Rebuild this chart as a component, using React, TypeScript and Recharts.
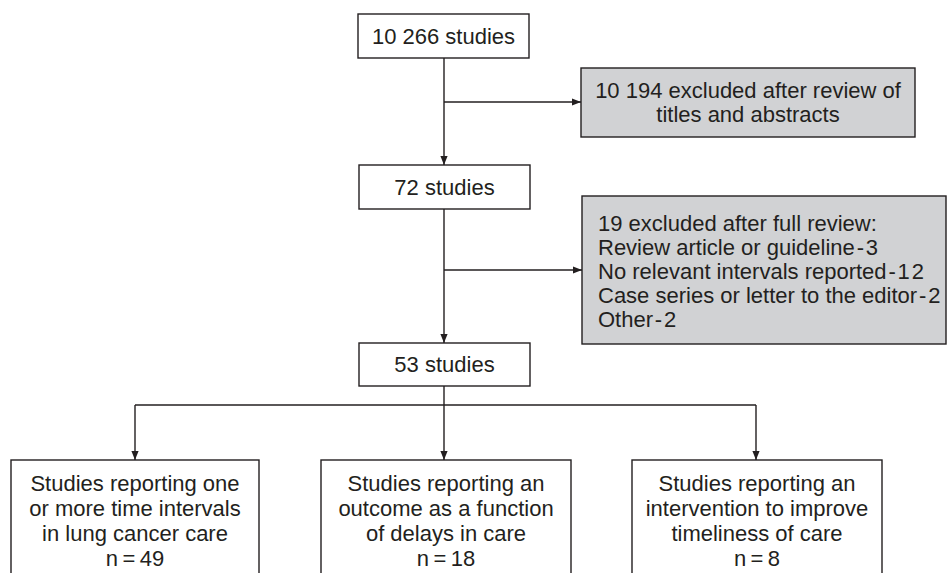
import { ComposedChart, XAxis, YAxis, Scatter, ReferenceLine } from "recharts";

document.body.style.margin = "0";

// text content
const stageLabels = ["10 266 studies", "72 studies", "53 studies"];
const exclusionLabels = [
  ["10 194 excluded after review of", "titles and abstracts"],
  [
    "19 excluded after full review:",
    "Review article or guideline\u200A-\u200A3",
    "No relevant intervals reported\u200A-\u200A1\u200A2",
    "Case series or letter to the editor\u200A-\u200A2",
    "Other\u200A-\u200A2",
  ],
];
const outcomeLabels = [
  ["Studies reporting one", "or more time intervals", "in lung cancer care"],
  ["Studies reporting an", "outcome as a function", "of delays in care"],
  ["Studies reporting an", "intervention to improve", "timeliness of care"],
];
const outcomeCounts = [49, 18, 8];

// layout (pixels, chart domain == canvas)
const W = 947;
const H = 573;
const INK = "#231f20";
const GREY = "#d1d2d4";
const FONT = "'Liberation Sans', Arial, sans-serif";

const stageLayout = [
  { x: 358, y: 14, w: 171, h: 44 },
  { x: 359, y: 165, w: 171, h: 44 },
  { x: 359, y: 343, w: 171, h: 43 },
];
const exclusionLayout = [
  { x: 581, y: 68, w: 334, h: 69, align: "middle", first: 90, gap: 24 },
  { x: 582, y: 196, w: 364, h: 148, align: "start", first: 223, gap: 24 },
];
const outcomeLayout = [
  { x: 11, y: 460, w: 248, h: 130 },
  { x: 321, y: 460, w: 250, h: 130 },
  { x: 632, y: 460, w: 250, h: 130 },
];

const spineX = 444;
const connectors = [
  [{ x: spineX, y: 58 }, { x: spineX, y: 165 }],
  [{ x: spineX, y: 102 }, { x: 581, y: 102 }],
  [{ x: spineX, y: 209 }, { x: spineX, y: 343 }],
  [{ x: spineX, y: 270 }, { x: 582, y: 270 }],
  [{ x: spineX, y: 386 }, { x: spineX, y: 460 }],
  [{ x: 135, y: 405 }, { x: 756, y: 405 }],
  [{ x: 135, y: 405 }, { x: 135, y: 460 }],
  [{ x: 756, y: 405 }, { x: 756, y: 460 }],
];
const arrowTips = [
  { x: spineX, y: 165, dir: "down" },
  { x: 581, y: 102, dir: "right" },
  { x: spineX, y: 343, dir: "down" },
  { x: 582, y: 270, dir: "right" },
  { x: spineX, y: 460, dir: "down" },
  { x: 135, y: 460, dir: "down" },
  { x: 756, y: 460, dir: "down" },
];

type BoxDatum = {
  x: number;
  y: number;
  w: number;
  h: number;
  fill: string;
  lines: string[];
  align: string;
  first: number;
  gap: number;
};

const boxes: BoxDatum[] = [
  ...stageLayout.map((b, i) => ({
    x: b.x + b.w / 2,
    y: b.y + b.h / 2,
    w: b.w,
    h: b.h,
    fill: "#ffffff",
    lines: [stageLabels[i]],
    align: "middle",
    first: b.y + b.h / 2,
    gap: 0,
  })),
  ...exclusionLayout.map((b, i) => ({
    x: b.x + b.w / 2,
    y: b.y + b.h / 2,
    w: b.w,
    h: b.h,
    fill: GREY,
    lines: exclusionLabels[i],
    align: b.align,
    first: b.first,
    gap: b.gap,
  })),
  ...outcomeLayout.map((b, i) => ({
    x: b.x + b.w / 2,
    y: b.y + b.h / 2,
    w: b.w,
    h: b.h,
    fill: "#ffffff",
    lines: [...outcomeLabels[i], `n\u2009=\u2009${outcomeCounts[i]}`],
    align: "middle",
    first: 483,
    gap: 25,
  })),
];

const BoxShape = (props: any) => {
  const { cx, cy, payload } = props;
  const d = payload as BoxDatum;
  const left = cx - d.w / 2;
  const top = cy - d.h / 2;
  const shift = cy - d.y;
  const tx = d.align === "start" ? left + 16 : cx;
  return (
    <g>
      <rect x={left} y={top} width={d.w} height={d.h} fill={d.fill} stroke={INK} strokeWidth={1.4} />
      {d.lines.map((t, i) => (
        <text
          key={i}
          x={tx}
          y={d.first + shift + i * d.gap}
          textAnchor={d.align}
          dominantBaseline="central"
          fontFamily={FONT}
          fontSize={22}
          fill={INK}
        >
          {t}
        </text>
      ))}
    </g>
  );
};

const ArrowHead = (props: any) => {
  const { cx, cy, payload } = props;
  const len = 9;
  const half = 3.6;
  const pts =
    payload.dir === "down"
      ? `${cx},${cy} ${cx - half},${cy - len} ${cx + half},${cy - len}`
      : `${cx},${cy} ${cx - len},${cy - half} ${cx - len},${cy + half}`;
  return <polygon points={pts} fill={INK} />;
};

export default function App() {
  return (
    <div style={{ width: W, height: H, background: "#fff" }}>
      <ComposedChart width={W} height={H} margin={{ top: 0, right: 0, bottom: 0, left: 0 }}>
        <XAxis type="number" dataKey="x" domain={[0, W]} hide allowDataOverflow />
        <YAxis type="number" dataKey="y" domain={[0, H]} reversed hide allowDataOverflow />
        {connectors.map((seg, i) => (
          <ReferenceLine key={i} segment={seg} stroke={INK} strokeWidth={1.4} ifOverflow="visible" />
        ))}
        <Scatter data={boxes} shape={<BoxShape />} isAnimationActive={false} />
        <Scatter data={arrowTips} shape={<ArrowHead />} isAnimationActive={false} />
      </ComposedChart>
    </div>
  );
}
